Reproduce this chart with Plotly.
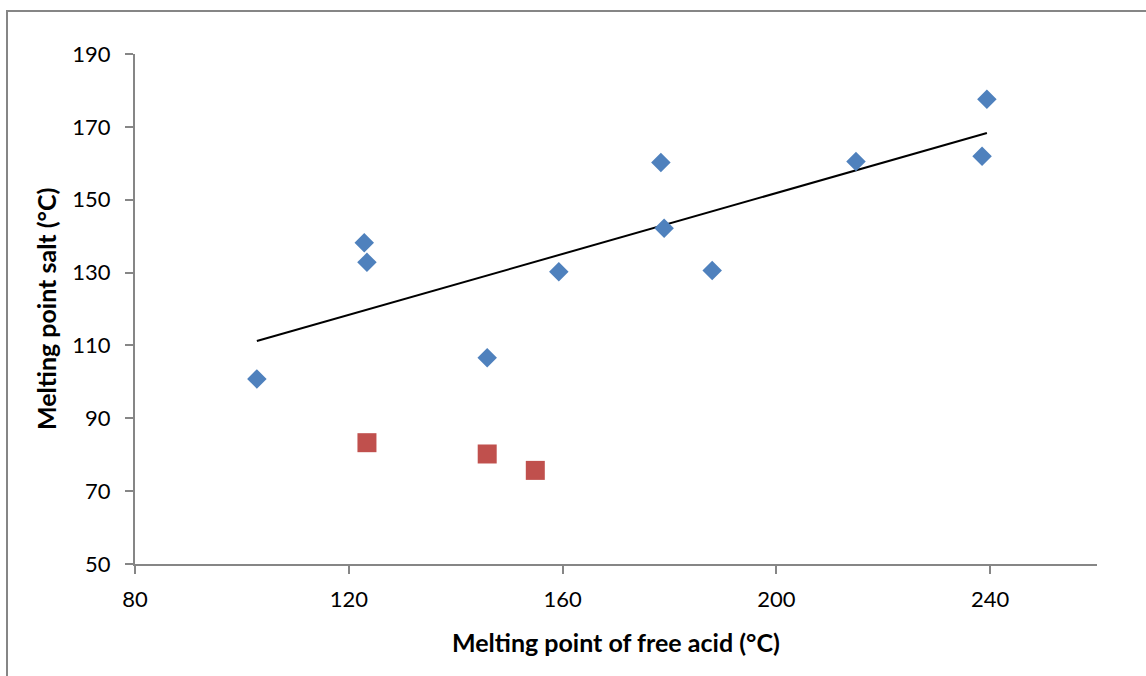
import numpy as np
import plotly.graph_objects as go

# Data
acid_mp_main = [102.8, 122.9, 123.4, 145.9, 159.3, 178.4, 179.0, 188.0, 214.9, 238.5, 239.4]
salt_mp_main = [100.8, 138.2, 132.8, 106.6, 130.2, 160.2, 142.2, 130.6, 160.5, 161.9, 177.6]
acid_mp_other = [123.4, 145.9, 154.9]
salt_mp_other = [83.3, 80.2, 75.7]

x_ticks = [80, 120, 160, 200, 240]
y_ticks = [50, 70, 90, 110, 130, 150, 170, 190]

# Linear trendline of the main series
slope, intercept = np.polyfit(acid_mp_main, salt_mp_main, 1)
tx = [min(acid_mp_main), max(acid_mp_main)]
ty = [slope * v + intercept for v in tx]

W, H = 1146, 676
ml, mr, mt, mb = 135, 49, 54, 112
pw, ph = W - ml - mr, H - mt - mb

def px(xpix):
    return (xpix - ml) / pw

def py(ypix):
    return (H - mb - ypix) / ph

fig = go.Figure()
fig.add_trace(go.Scatter(x=tx, y=ty, mode="lines",
                         line=dict(color="black", width=2), showlegend=False,
                         hoverinfo="skip"))
fig.add_trace(go.Scatter(x=acid_mp_main, y=salt_mp_main, mode="markers",
                         marker=dict(symbol="diamond", size=15, color="#4F81BD",
                                     line=dict(width=0)), showlegend=False))
fig.add_trace(go.Scatter(x=acid_mp_other, y=salt_mp_other, mode="markers",
                         marker=dict(symbol="square", size=19, color="#C0504D",
                                     line=dict(width=0)), showlegend=False))

axis_common = dict(showgrid=False, zeroline=False, showline=True,
                   linecolor="#868686", linewidth=2, ticks="outside",
                   ticklen=8, tickcolor="#868686", tickwidth=2,
                   tickfont=dict(family="Lato", size=22, color="black"))

fig.update_xaxes(range=[80, 260], tickvals=x_ticks, ticklabelstandoff=7, **axis_common)
fig.update_yaxes(range=[50, 190], tickvals=y_ticks, ticklabelstandoff=10, **axis_common)

fig.add_annotation(text="<b>Melting point of free acid (°C)</b>", xref="paper", yref="paper",
                   x=0.5, y=py(642), xanchor="center", yanchor="middle", showarrow=False,
                   font=dict(family="Lato", size=25, color="black"))
fig.add_annotation(text="<b>Melting point salt (°C)</b>", xref="paper", yref="paper",
                   x=px(46), y=0.5, xanchor="center", yanchor="middle", showarrow=False,
                   textangle=-90, font=dict(family="Lato", size=25, color="black"))

# Outer chart frame
fig.add_shape(type="rect", xref="paper", yref="paper",
              x0=px(7), x1=px(1170), y0=py(700), y1=py(11),
              line=dict(color="#868686", width=2), fillcolor="rgba(0,0,0,0)", layer="below")

fig.update_layout(width=W, height=H, margin=dict(l=ml, r=mr, t=mt, b=mb),
                  plot_bgcolor="white", paper_bgcolor="white", showlegend=False)

fig.write_html("out.html", config={"displayModeBar": False},
               post_script="document.body.style.margin='0';")
